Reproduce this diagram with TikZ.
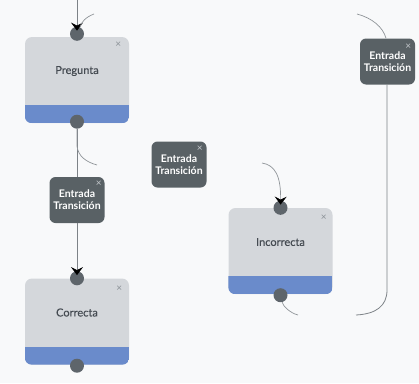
\documentclass[tikz,border=0pt]{standalone}
\usepackage{fontspec}
\setmainfont{Lato}
\newfontfamily\labelfont{Lato}[BoldFont=Lato, BoldFeatures={FakeBold=0.4}]
\usetikzlibrary{arrows.meta,calc}
\definecolor{canvas}{HTML}{F8F9FA}
\definecolor{stategray}{HTML}{D4D7DB}
\definecolor{bandblue}{HTML}{6A8BCB}
\definecolor{transdark}{HTML}{596165}
\definecolor{portgray}{HTML}{5E656B}
\definecolor{wire}{HTML}{7D8287}
\definecolor{labeltext}{HTML}{454B52}
\definecolor{xstate}{HTML}{8A9096}
\definecolor{xtrans}{HTML}{C4C8CC}

\begin{document}
\begin{tikzpicture}[x=1pt,y=-1pt,
  statebox/.style={fill=stategray, rounded corners=7pt, minimum width=104pt,
    minimum height=86pt, inner sep=0pt},
  statetext/.style={text=labeltext, font=\labelfont\bfseries\fontsize{11}{13}\selectfont, inner sep=0pt},
  transbox/.style={fill=transdark, rounded corners=6pt, minimum width=55pt,
    minimum height=46pt, inner sep=0pt, text=white, align=center,
    font=\bfseries\fontsize{10.5}{12}\selectfont},
  port/.style={circle, fill=portgray, minimum size=14pt, inner sep=0pt},
  closemark/.style={font=\fontsize{10}{10}\selectfont, inner sep=0pt, text=#1},
  wireline/.style={draw=wire, line width=0.8pt},
  ghost/.style={draw=wire!85, line width=0.7pt},
  intoport/.style={-{Stealth[black, width=12pt, length=8pt, inset=3pt]}, shorten >=-4pt}
]
% canvas
\fill[canvas] (0,0) rectangle (419,383);
\useasboundingbox (0,0) rectangle (419,383);

% state boxes
\node[statebox] (preg) at (77,80) {};
\node[statebox] (corr) at (77,321.5) {};
\node[statebox] (inco) at (280.5,251) {};
\foreach \b in {preg,corr,inco}{
  \begin{scope}
    \clip[rounded corners=7pt] (\b.south west) rectangle (\b.north east);
    \fill[bandblue] (\b.south west) rectangle ([yshift=18pt]\b.south east);
  \end{scope}
}
\node[statetext] (preg-t) at ([yshift=9pt]preg.center) {Pregunta};
\node[statetext] (corr-t) at ([yshift=9pt]corr.center) {Correcta};
\node[statetext] (inco-t) at ([yshift=9pt]inco.center) {Incorrecta};

% transition boxes
\node[transbox] (lt) at (77,200) {Entrada\\Transición};
\node[transbox] (mt) at (179,164.5) {Entrada\\Transición};
\node[transbox] (rt) at (387.5,61.5) {Entrada\\Transición};

% close marks
\node[closemark=xstate] (preg-x) at ([xshift=-11pt,yshift=-8pt]preg.north east) {×};
\node[closemark=xstate] (corr-x) at ([xshift=-10pt,yshift=-10pt]corr.north east) {×};
\node[closemark=xstate] (inco-x) at ([xshift=-9pt,yshift=-10pt]inco.north east) {×};
\node[closemark=xtrans] (lt-x) at ([xshift=-6pt,yshift=-7pt]lt.north east) {×};
\node[closemark=xtrans] (mt-x) at ([xshift=-7pt,yshift=-7pt]mt.north east) {×};
\node[closemark=xtrans] (rt-x) at ([xshift=-7pt,yshift=-8pt]rt.north east) {×};

% ports
\node[port] (preg-in) at ([yshift=3pt]preg.north) {};
\node[port] (preg-out) at ([yshift=1.5pt]preg.south) {};
\node[port] (corr-in) at (corr.north) {};
\node[port] (corr-out) at ([yshift=-1pt]corr.south) {};
\node[port] (inco-in) at (inco.north) {};
\node[port] (inco-out) at ([yshift=-1pt]inco.south) {};

% connectors
\coordinate (topend) at (77,0);
\coordinate (loopin) at (94,14);
\coordinate (midfade) at (97,165);
\coordinate (mtfade) at (262,163);
\coordinate (lpA) at (298,315);
\coordinate (lpB) at (356,315);
\coordinate (rtfade) at (357,14);

\draw[wireline, intoport] (topend) -- (preg-in);
\draw[ghost] (loopin) .. controls (86,17) and (81,22) .. (preg-in.65);
\draw[wireline] (preg-out) -- (lt);
\draw[ghost] (preg-out.south) -- (77,146) .. controls (78,156) and (86,162) .. (midfade);
\draw[wireline, intoport] (lt) -- (corr-in);
\draw[ghost, intoport] (mtfade) .. controls (275,165) and (281,176) .. (inco-in);
\draw[ghost] (inco-out) .. controls (283,306) and (290,313) .. (lpA);
\draw[wireline] (lpB) .. controls (376,314) and (387,306) .. (387,290) -- (rt.south -| 387,0);
\draw[ghost] (rtfade) .. controls (372,18) and (383,27) .. (rt.north -| 386,0);
\end{tikzpicture}
\end{document}
